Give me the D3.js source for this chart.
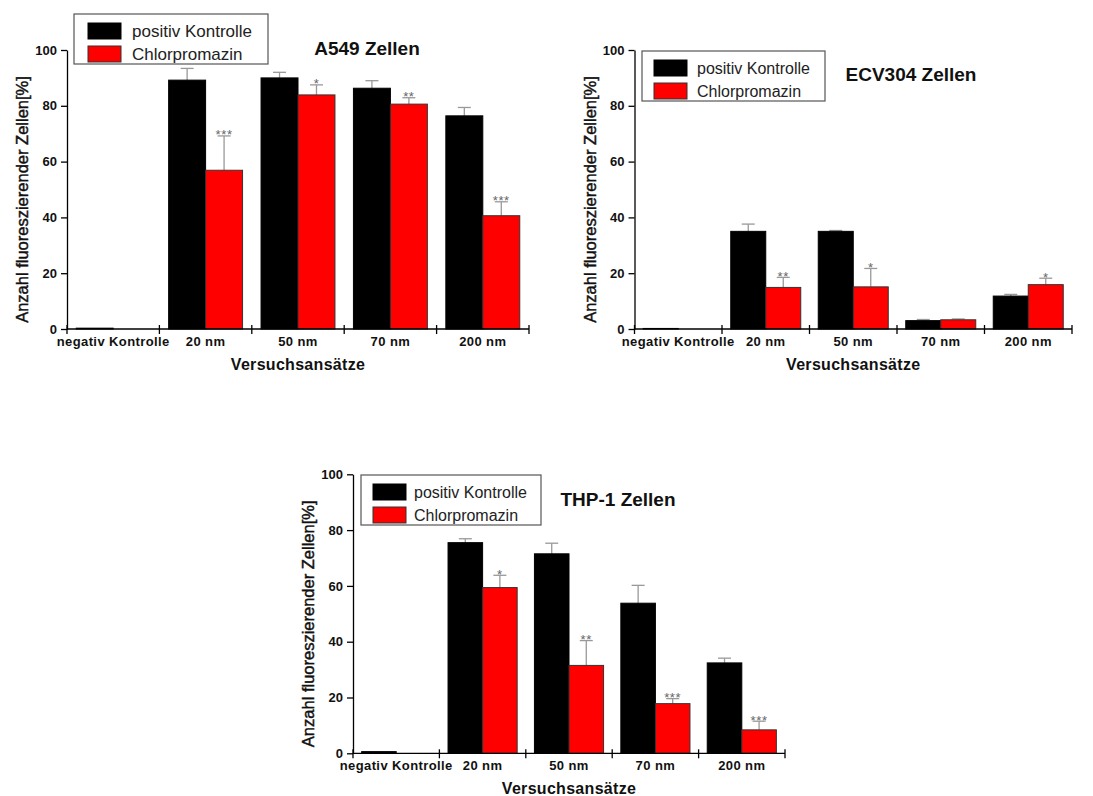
<!DOCTYPE html>
<html>
<head>
<meta charset="utf-8">
<script src="https://cdn.jsdelivr.net/npm/d3@7"></script>
<style>
  html, body { margin: 0; padding: 0; background: #fff; }
  svg { display: block; font-family: "Liberation Sans", Arial, sans-serif; }
</style>
</head>
<body>
<svg id="chart" width="1093" height="796"></svg>
<script>
// Categories and series shared by all three cell lines
const categories = ["negativ Kontrolle", "20 nm", "50 nm", "70 nm", "200 nm"];
const seriesNames = ["positiv Kontrolle", "Chlorpromazin"];
const yTicks = [0, 20, 40, 60, 80, 100];

// A549 Zellen
const a549Kontrolle    = [0.3, 89.2, 90.0, 86.3, 76.4];
const a549KontrolleErr = [0, 4.2, 2.0, 2.7, 3.0];
const a549Chlor        = [0, 56.9, 83.9, 80.6, 40.6];
const a549ChlorErr     = [0, 12.3, 3.6, 2.3, 5.0];
const a549Stars        = ["", "***", "*", "**", "***"];

// ECV304 Zellen
const ecvKontrolle    = [0.2, 35.0, 35.0, 3.0, 11.8];
const ecvKontrolleErr = [0, 2.6, 0.3, 0.4, 0.6];
const ecvChlor        = [0, 14.9, 15.1, 3.3, 15.9];
const ecvChlorErr     = [0, 3.6, 6.6, 0.3, 2.3];
const ecvStars        = ["", "**", "*", "", "*"];

// THP-1 Zellen
const thpKontrolle    = [0.6, 75.5, 71.5, 53.8, 32.4];
const thpKontrolleErr = [0, 1.4, 3.8, 6.4, 1.7];
const thpChlor        = [0, 59.4, 31.5, 17.8, 8.4];
const thpChlorErr     = [0, 4.4, 8.9, 1.8, 3.1];
const thpStars        = ["", "*", "**", "***", "***"];

const colors = { "positiv Kontrolle": "#000000", "Chlorpromazin": "#ff0000" };
const strokes = { "positiv Kontrolle": "#000000", "Chlorpromazin": "#333333" };

const panels = [
  {
    title: "A549 Zellen",
    kontrolle: a549Kontrolle, kontrolleErr: a549KontrolleErr,
    chlor: a549Chlor, chlorErr: a549ChlorErr, stars: a549Stars,
    x0: 67, x1: 529, yTop: 50, yBottom: 329,
    titleX: 367, titleY: 55,
    legend: { x: 74, y: 14, w: 194, h: 50, sw: 14, tx: 58, fs: 17 }
  },
  {
    title: "ECV304 Zellen",
    kontrolle: ecvKontrolle, kontrolleErr: ecvKontrolleErr,
    chlor: ecvChlor, chlorErr: ecvChlorErr, stars: ecvStars,
    x0: 634.5, x1: 1072, yTop: 50, yBottom: 329,
    titleX: 911, titleY: 81,
    legend: { x: 642, y: 51, w: 183, h: 50, sw: 12, tx: 55, fs: 16 }
  },
  {
    title: "THP-1 Zellen",
    kontrolle: thpKontrolle, kontrolleErr: thpKontrolleErr,
    chlor: thpChlor, chlorErr: thpChlorErr, stars: thpStars,
    x0: 353, x1: 785, yTop: 474.3, yBottom: 753.3,
    titleX: 618, titleY: 506,
    legend: { x: 361, y: 475, w: 180, h: 50, sw: 12, tx: 53, fs: 16 }
  }
];

const svg = d3.select("#chart");

panels.forEach(p => {
  const g = svg.append("g");

  const x = d3.scaleBand().domain(categories).range([p.x0, p.x1]).padding(0);
  const xs = d3.scaleBand().domain(seriesNames).range([0, x.bandwidth()])
    .paddingInner(0).paddingOuter(0.25);
  const y = d3.scaleLinear().domain([0, 100]).range([p.yBottom, p.yTop]);

  // rows: one per category and series
  const rows = [];
  categories.forEach((c, i) => {
    rows.push({ cat: c, series: seriesNames[0], value: p.kontrolle[i], err: p.kontrolleErr[i], star: "" });
    rows.push({ cat: c, series: seriesNames[1], value: p.chlor[i], err: p.chlorErr[i], star: p.stars[i] });
  });
  const shown = rows.filter(d => d.value > 0);

  // error bars (upper half only, gray)
  const eb = g.append("g").attr("stroke", "#999").attr("stroke-width", 1.3);
  shown.filter(d => d.err > 0).forEach(d => {
    const cx = x(d.cat) + xs(d.series) + xs.bandwidth() / 2;
    eb.append("line").attr("x1", cx).attr("x2", cx)
      .attr("y1", y(d.value)).attr("y2", y(d.value + d.err));
    eb.append("line").attr("x1", cx - 6.5).attr("x2", cx + 6.5)
      .attr("y1", y(d.value + d.err)).attr("y2", y(d.value + d.err));
  });

  // bars
  g.append("g").selectAll("rect").data(shown).join("rect")
    .attr("x", d => x(d.cat) + xs(d.series))
    .attr("width", xs.bandwidth())
    .attr("y", d => y(d.value))
    .attr("height", d => y(0) - y(d.value))
    .attr("fill", d => colors[d.series])
    .attr("stroke", d => strokes[d.series])
    .attr("stroke-width", 1);

  // significance stars
  g.append("g").selectAll("text").data(shown.filter(d => d.star)).join("text")
    .attr("x", d => x(d.cat) + xs(d.series) + xs.bandwidth() / 2)
    .attr("y", d => y(d.value + d.err) + 3.5)
    .attr("text-anchor", "middle")
    .attr("fill", "#666")
    .attr("font-size", 13)
    .attr("letter-spacing", 0.6)
    .text(d => d.star);

  // y axis
  const yAxis = g.append("g")
    .attr("transform", `translate(${p.x0},0)`)
    .call(d3.axisLeft(y).tickValues(yTicks).tickSize(6).tickPadding(4).tickSizeOuter(0));
  yAxis.select(".domain").attr("stroke", "#000").attr("stroke-width", 1.3);
  yAxis.selectAll(".tick line").attr("stroke", "#000").attr("stroke-width", 1.3);
  yAxis.selectAll(".tick text")
    .attr("font-family", "'Liberation Sans', Arial, sans-serif")
    .attr("font-size", 13).attr("font-weight", "bold").attr("fill", "#111");

  // x axis: baseline with crossing ticks at category boundaries
  const xa = g.append("g").attr("stroke", "#000").attr("stroke-width", 1.3);
  xa.append("line").attr("x1", p.x0).attr("x2", p.x1)
    .attr("y1", y(0)).attr("y2", y(0));
  const bounds = categories.map(c => x(c)).concat([x.range()[1]]);
  bounds.forEach(bx => {
    xa.append("line").attr("x1", bx).attr("x2", bx)
      .attr("y1", y(0) - 4).attr("y2", y(0) + 5);
  });
  g.append("g").selectAll("text").data(categories).join("text")
    .attr("x", c => x(c) + x.bandwidth() / 2)
    .attr("y", y(0) + 17)
    .attr("text-anchor", "middle")
    .attr("font-size", 13).attr("font-weight", "bold").attr("letter-spacing", 0.4)
    .attr("fill", "#111")
    .text(c => c);

  // axis titles
  g.append("text")
    .attr("x", (p.x0 + p.x1) / 2).attr("y", y(0) + 41)
    .attr("text-anchor", "middle")
    .attr("font-size", 16).attr("font-weight", "bold").attr("letter-spacing", 0.3)
    .attr("fill", "#111")
    .text("Versuchsansätze");
  const yMid = (p.yTop + p.yBottom) / 2 + 10;
  g.append("text")
    .attr("transform", `translate(${p.x0 - 39},${yMid}) rotate(-90)`)
    .attr("text-anchor", "middle")
    .attr("font-size", 16.5).attr("fill", "#111")
    .attr("stroke", "#111").attr("stroke-width", 0.45)
    .text("Anzahl fluoreszierender Zellen[%]");

  // panel title
  g.append("text")
    .attr("x", p.titleX).attr("y", p.titleY)
    .attr("text-anchor", "middle")
    .attr("font-size", 19).attr("font-weight", "bold").attr("fill", "#111")
    .text(p.title);

  // legend
  const L = p.legend;
  const lg = g.append("g");
  lg.append("rect").attr("x", L.x).attr("y", L.y).attr("width", L.w).attr("height", L.h)
    .attr("fill", "#fff").attr("stroke", "#555").attr("stroke-width", 1.2);
  seriesNames.forEach((s, i) => {
    const ry = L.y + 9 + i * 23;
    lg.append("rect").attr("x", L.x + L.sw).attr("y", ry).attr("width", 33).attr("height", 16)
      .attr("fill", colors[s]).attr("stroke", strokes[s]).attr("stroke-width", 1);
    lg.append("text").attr("x", L.x + L.tx).attr("y", ry + 14)
      .attr("font-size", L.fs).attr("fill", "#222")
      .text(s);
  });
});
</script>
</body>
</html>
